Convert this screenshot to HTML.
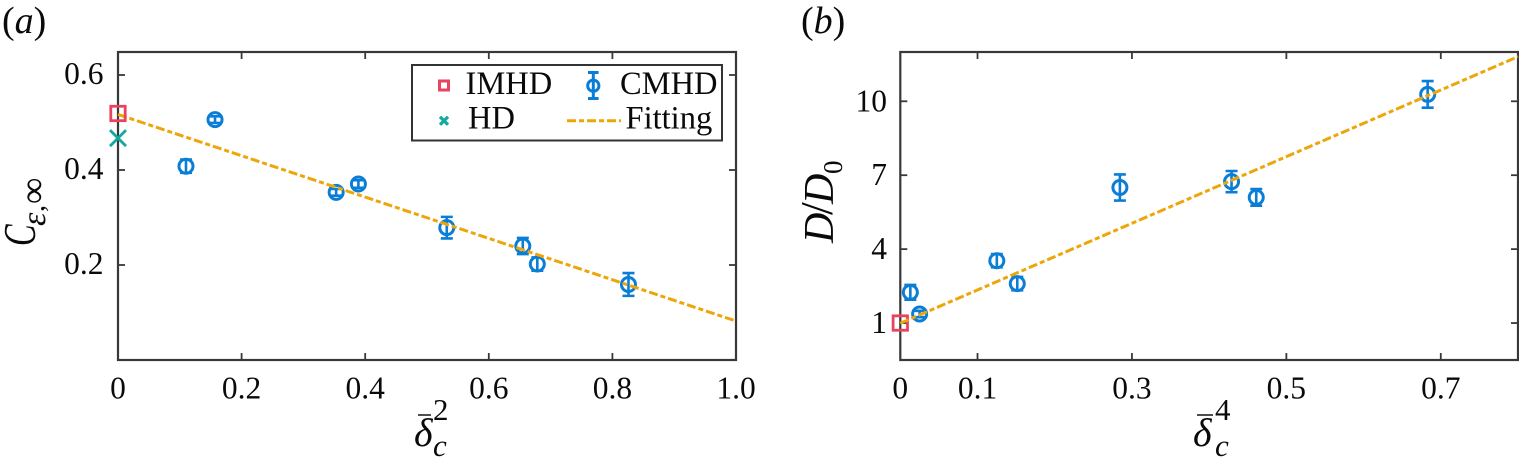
<!DOCTYPE html>
<html lang="en">
<head>
<meta charset="utf-8">
<title>Dissipation coefficient charts</title>
<style>
  html, body { margin: 0; padding: 0; background: #fff; }
  svg { display: block; }
  text { font-family: "Liberation Serif", serif; fill: #0a0a0a; }
  .tick-label { font-size: 31.5px; }
  .legend-text { font-size: 32.5px; }
  .it { font-style: italic; }
</style>
</head>
<body>
<svg id="figure" width="1519" height="465" viewBox="0 0 1519 465" xmlns="http://www.w3.org/2000/svg">
  <rect width="1519" height="465" fill="#fff"/>

  <text x="2" y="33" font-size="38">(<tspan class="it">a</tspan>)</text>
  <text x="801" y="33" font-size="38">(<tspan class="it">b</tspan>)</text>

  <g id="panel-a"></g>
  <g id="panel-b"></g>

  <g>
    <text class="it" transform="translate(35,246) rotate(-90) scale(0.72,1)" font-size="45">C</text>
    <text class="it" transform="translate(45,226) rotate(-90)" font-size="34">ε</text>
    <text transform="translate(44,212) rotate(-90)" font-size="28">,</text>
    <text transform="translate(45,204) rotate(-90)" font-size="37">∞</text>
  </g>
  <g>
    <text class="it" x="414" y="446" font-size="40">δ</text>
    <line x1="418" y1="415" x2="431" y2="415" stroke="#222" stroke-width="1.6"/>
    <text x="433" y="420" font-size="31">2</text>
    <text class="it" x="433" y="456" font-size="31">c</text>
  </g>
  <g>
    <text class="it" transform="translate(833,243) rotate(-90)" font-size="42">D</text>
    <text transform="translate(832,215) rotate(-90)" font-size="46">/</text>
    <text class="it" transform="translate(833,204) rotate(-90)" font-size="42">D</text>
    <text transform="translate(842,174) rotate(-90)" font-size="27">0</text>
  </g>
  <g>
    <text class="it" x="1193" y="446" font-size="40">δ</text>
    <line x1="1197" y1="415" x2="1213" y2="415" stroke="#222" stroke-width="1.6"/>
    <text x="1215" y="420" font-size="31">4</text>
    <text class="it" x="1215" y="456" font-size="31">c</text>
  </g>

  <g id="legend">
    <rect x="412" y="65" width="310" height="75.5" fill="#fff" stroke="#333" stroke-width="2"/>
    <g>
      <rect x="439.5" y="81" width="9" height="9" fill="none" stroke="#e8435f" stroke-width="3"/>
      <text class="legend-text" x="465.5" y="94">IMHD</text>
    </g>
    <g>
      <path d="M440 116.7 L448 124.7 M448 116.7 L440 124.7" stroke="#14a99e" stroke-width="3.2" fill="none"/>
      <text class="legend-text" x="468" y="128.5">HD</text>
    </g>
    <g>
      <path d="M593.3 72.5 V98.5 M588 72.5 H598.6 M588 98.5 H598.6" stroke="#0a7ed6" stroke-width="3" fill="none"/>
      <circle cx="593.3" cy="85.7" r="5.6" fill="none" stroke="#0a7ed6" stroke-width="3"/>
      <text class="legend-text" x="620" y="94">CMHD</text>
    </g>
    <g>
      <line x1="567" y1="120.7" x2="621" y2="120.7" stroke="#eda60a" stroke-width="3" stroke-dasharray="9 3 5 3"/>
      <text class="legend-text" x="625.5" y="128.5">Fitting</text>
    </g>
  </g>
</svg>

<script>
// Panel (a) data
const aXTicks = [0, 0.2, 0.4, 0.6, 0.8, 1.0];
const aXTickLabels = ["0", "0.2", "0.4", "0.6", "0.8", "1.0"];
const aYTicks = [0.2, 0.4, 0.6];
const aYTickLabels = ["0.2", "0.4", "0.6"];
const aCmhdX = [0.11, 0.157, 0.353, 0.389, 0.532, 0.655, 0.6785, 0.826];
const aCmhdY = [0.408, 0.506, 0.353, 0.3705, 0.2786, 0.24, 0.202, 0.159];
const aCmhdErr = [0.014, 0.007, 0.007, 0.008, 0.0227, 0.017, 0.014, 0.024];
const aFitX = [0, 1];
const aFitY = [0.517, 0.082];
const aImhdX = [0];
const aImhdY = [0.519];
const aHdX = [0];
const aHdY = [0.467];

// Panel (b) data
const bXTicks = [0, 0.1, 0.3, 0.5, 0.7];
const bXTickLabels = ["0", "0.1", "0.3", "0.5", "0.7"];
const bYTicks = [1, 4, 7, 10];
const bYTickLabels = ["1", "4", "7", "10"];
const bCmhdX = [0.013, 0.025, 0.125, 0.1515, 0.2844, 0.429, 0.461, 0.683];
const bCmhdY = [2.247, 1.367, 3.53, 2.6, 6.5, 6.74, 6.1, 10.28];
const bCmhdErr = [0.3, 0.13, 0.27, 0.27, 0.53, 0.43, 0.34, 0.54];
const bFitX = [0, 0.8];
const bFitY = [0.99, 11.81];
const bImhdX = [0];
const bImhdY = [1];

const NS = 'http://www.w3.org/2000/svg';
const BLUE = '#0a7ed6', RED = '#e8435f', TEAL = '#14a99e', GOLD = '#eda60a', AXIS = '#383838';

function mk(parent, tag, attrs) {
  const el = document.createElementNS(NS, tag);
  for (const k in attrs) el.setAttribute(k, attrs[k]);
  parent.appendChild(el);
  return el;
}

function linear(d0, d1, r0, r1) {
  return function (v) { return r0 + (v - d0) * (r1 - r0) / (d1 - d0); };
}

function drawAxes(g, box, sx, sy, xTicks, xLabels, yTicks, yLabels, yLabelRight, yLabelShift) {
  xTicks.forEach(function (t, i) {
    const px = sx(t);
    if (t !== 0) {
      const b = mk(g, 'line', { x1: px, x2: px, y1: box.bottom, y2: box.bottom - 7, stroke: AXIS, 'stroke-width': 1.8 });
      
      
      const tp = mk(g, 'line', { x1: px, x2: px, y1: box.top, y2: box.top + 7, stroke: AXIS, 'stroke-width': 1.8 });
      
      
    }
    const lab = mk(g, 'text', { x: px, y: 398.5, 'text-anchor': 'middle', class: 'tick-label' });
    lab.textContent = xLabels[i];
    
    
  });
  yTicks.forEach(function (t, i) {
    const py = sy(t);
    const l = mk(g, 'line', { x1: box.left, x2: box.left + 7, y1: py, y2: py, stroke: AXIS, 'stroke-width': 1.8 });
    
    
    const r = mk(g, 'line', { x1: box.right, x2: box.right - 7, y1: py, y2: py, stroke: AXIS, 'stroke-width': 1.8 });
    
    
    const lab = mk(g, 'text', { x: yLabelRight, y: py + yLabelShift, 'text-anchor': 'end', class: 'tick-label' });
    lab.textContent = yLabels[i];
    
    
  });
  const frame = mk(g, 'rect', { x: box.left, y: box.top, width: box.right - box.left, height: box.bottom - box.top, fill: 'none', stroke: AXIS, 'stroke-width': 2.2 });
  
  
}

function drawCmhd(g, sx, sy, xs, ys, errs) {
  xs.forEach(function (x, i) {
    const px = sx(x), py = sy(ys[i]);
    const top = sy(ys[i] + errs[i]), bot = sy(ys[i] - errs[i]);
    const pt = mk(g, 'g', {});
    
    
    mk(pt, 'path', {
      d: 'M' + px + ' ' + top + ' V' + bot + ' M' + (px - 6) + ' ' + top + ' H' + (px + 6) + ' M' + (px - 6) + ' ' + bot + ' H' + (px + 6),
      fill: 'none', stroke: BLUE, 'stroke-width': 2.6
    });
    mk(pt, 'circle', { cx: px, cy: py, r: 7, fill: 'none', stroke: BLUE, 'stroke-width': 3 });
  });
}

function drawFit(g, sx, sy, xs, ys) {
  const l = mk(g, 'line', {
    x1: sx(xs[0]), y1: sy(ys[0]), x2: sx(xs[1]), y2: sy(ys[1]),
    stroke: GOLD, 'stroke-width': 3, 'stroke-dasharray': '9 3 5 3'
  });
  
  
}

function drawSquares(g, sx, sy, xs, ys) {
  xs.forEach(function (x, i) {
    const s = mk(g, 'rect', { x: sx(x) - 7.2, y: sy(ys[i]) - 7.2, width: 14.4, height: 14.4, fill: 'none', stroke: RED, 'stroke-width': 2.8 });
    
    
  });
}

function drawCrosses(g, sx, sy, xs, ys) {
  xs.forEach(function (x, i) {
    const px = sx(x), py = sy(ys[i]);
    const c = mk(g, 'path', {
      d: 'M' + (px - 8) + ' ' + (py - 8) + ' L' + (px + 8) + ' ' + (py + 8) + ' M' + (px + 8) + ' ' + (py - 8) + ' L' + (px - 8) + ' ' + (py + 8),
      fill: 'none', stroke: TEAL, 'stroke-width': 2.8
    });
    
    
  });
}

// Panel (a)
(function () {
  const g = document.getElementById('panel-a');
  const box = { left: 118, right: 736, top: 52, bottom: 360 };
  const sx = linear(0, 1, box.left, box.right);
  const sy = linear(0, 0.6484, box.bottom, box.top);
  drawAxes(g, box, sx, sy, aXTicks, aXTickLabels, aYTicks, aYTickLabels, 103.5, 9);
  drawCmhd(g, sx, sy, aCmhdX, aCmhdY, aCmhdErr);
  drawFit(g, sx, sy, aFitX, aFitY);
  drawSquares(g, sx, sy, aImhdX, aImhdY);
  drawCrosses(g, sx, sy, aHdX, aHdY);
})();

// Panel (b)
(function () {
  const g = document.getElementById('panel-b');
  const box = { left: 900.3, right: 1518, top: 52, bottom: 360 };
  const sx = linear(0, 0.8, box.left, box.right);
  const sy = linear(-0.5, 12, box.bottom, box.top);
  drawAxes(g, box, sx, sy, bXTicks, bXTickLabels, bYTicks, bYTickLabels, 887, 10);
  drawCmhd(g, sx, sy, bCmhdX, bCmhdY, bCmhdErr);
  drawSquares(g, sx, sy, bImhdX, bImhdY);
  drawFit(g, sx, sy, bFitX, bFitY);
})();
</script>
</body>
</html>
